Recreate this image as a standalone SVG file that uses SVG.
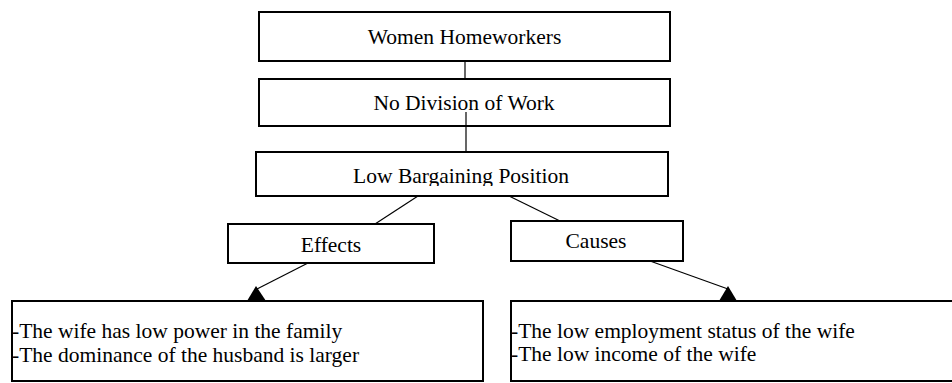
<svg xmlns="http://www.w3.org/2000/svg" width="952" height="383" viewBox="0 0 952 383">
<style>
.box{fill:#fff;stroke:#000;stroke-width:2}
.t{font-family:"Liberation Serif","Times New Roman",serif;font-size:21.5px;fill:#000}
.c{text-anchor:middle}
.ln{stroke:#000;stroke-width:1.2;fill:none}
.ah{fill:#000}
</style>
<defs>
<clipPath id="clip3"><rect x="256" y="152" width="412" height="34"/></clipPath>
</defs>
<rect width="952" height="383" fill="#fff"/>
<g id="n1">
<rect class="box" x="259" y="12" width="411" height="49"/>
<text class="t c" x="464.5" y="44">Women Homeworkers</text>
</g>
<g id="n2">
<rect class="box" x="259" y="79" width="411" height="47"/>
<text class="t c" x="464" y="110">No Division of Work</text>
</g>
<g id="n3">
<rect class="box" x="256" y="152" width="412" height="44"/>
<text class="t c" x="461" y="183" clip-path="url(#clip3)">Low Bargaining Position</text>
</g>
<g id="effects">
<rect class="box" x="228" y="224" width="206" height="39"/>
<text class="t c" x="331" y="252">Effects</text>
</g>
<g id="causes">
<rect class="box" x="511" y="221" width="172" height="40"/>
<text class="t c" x="596" y="248">Causes</text>
</g>
<g id="effectsList">
<rect class="box" x="12" y="301" width="471" height="80"/>
<text class="t" x="12" y="338">-The wife has low power in the family</text>
<text class="t" x="12" y="362">-The dominance of the husband is larger</text>
</g>
<g id="causesList">
<rect class="box" x="511" y="301" width="445" height="80"/>
<text class="t" x="511" y="338">-The low employment status of the wife</text>
<text class="t" x="511" y="361">-The low income of the wife</text>
</g>
<g id="connectors">
<line class="ln" x1="465" y1="61" x2="465" y2="79"/>
<line class="ln" x1="466" y1="112" x2="466" y2="152"/>
<line class="ln" x1="418" y1="196" x2="375" y2="224"/>
<line class="ln" x1="509" y1="196" x2="560" y2="221"/>
<line class="ln" x1="308" y1="263" x2="257" y2="289"/>
<line class="ln" x1="650" y1="261" x2="728" y2="289"/>
<polygon class="ah" points="256,286 247,301 266,301"/>
<polygon class="ah" points="728,286 719,301 737,301"/>
</g>
</svg>
